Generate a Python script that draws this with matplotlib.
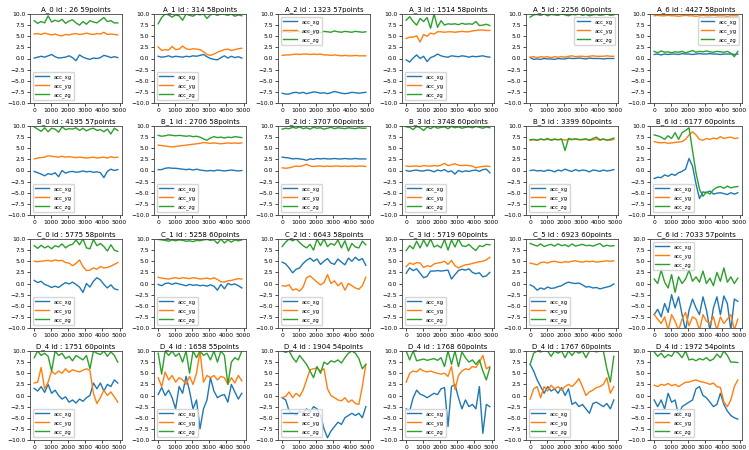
import numpy as np
import matplotlib
matplotlib.use('Agg')
import matplotlib.pyplot as plt

titles = [
    "A_0 id : 26 59points", "A_1 id : 314 58points", "A_2 id : 1323 57points",
    "A_3 id : 1514 58points", "A_5 id : 2256 60points", "A_6 id : 4427 58points",
    "B_0 id : 4195 57points", "B_1 id : 2706 58points", "B_2 id : 3707 60points",
    "B_3 id : 3748 60points", "B_5 id : 3399 60points", "B_6 id : 6177 60points",
    "C_0 id : 5775 58points", "C_1 id : 5258 60points", "C_2 id : 6643 58points",
    "C_3 id : 5719 60points", "C_5 id : 6923 60points", "C_6 id : 7033 57points",
    "D_4 id : 1751 60points", "D_4 id : 1658 55points", "D_4 id : 1904 54points",
    "D_4 id : 1768 60points", "D_4 id : 1767 60points", "D_4 id : 1972 54points",
]
legend_locs = [
    'lower left', 'lower left', 'upper left', 'lower left', 'upper right', 'upper right',
    'lower left', 'lower left', 'lower left', 'lower left', 'lower left', 'lower left',
    'lower left', 'lower left', 'lower left', 'lower left', 'lower left', 'upper left',
    'lower left', 'lower left', 'lower left', 'lower left', 'lower left', 'lower left',
]
labels = ['acc_xg', 'acc_yg', 'acc_zg']

# --- row A ---
a0_xg = [0.1,0.3,0.5,0.3,0.6,0.9,0.4,0.1,0.2,0.3,0.6,0.2,-0.5,0.8,0.3,0.0,-0.2,0.1,0.0,0.2,0.7,0.5,0.2,0.4,0.2]
a0_yg = [5.5,5.6,5.4,5.7,5.5,5.3,5.5,5.2,5.1,5.4,5.3,5.5,5.6,5.4,5.5,5.7,5.5,5.4,5.6,5.5,5.9,5.4,5.5,5.4,5.3]
a0_zg = [8.5,7.9,8.3,8.0,9.6,8.2,8.6,8.3,8.8,7.9,8.4,8.7,8.0,7.5,8.3,7.7,8.5,8.2,8.0,8.6,9.2,8.3,8.5,8.0,8.0]
a1_xg = [0.5,0.3,0.4,0.6,0.3,0.5,0.4,0.3,0.5,0.4,0.6,0.5,0.7,0.9,0.4,0.0,-0.2,-0.3,0.2,0.6,0.1,0.5,0.2,0.4,0.1]
a1_yg = [2.6,1.8,2.0,1.9,2.7,2.0,2.1,2.8,2.2,2.0,2.2,2.1,2.0,1.5,0.9,0.7,1.0,1.4,1.7,2.0,2.1,1.8,2.0,2.2,2.3]
a1_zg = [7.8,9.2,10.0,9.8,9.3,9.8,9.6,8.6,10.0,9.7,9.5,10.0,9.8,10.0,9.0,9.8,10.0,9.7,10.0,9.9,9.7,10.0,9.5,9.8,9.6]
a2_xg = [-7.8,-8.0,-8.0,-7.7,-7.6,-7.8,-7.6,-7.9,-7.7,-7.5,-7.6,-7.8,-7.7,-7.9,-7.7,-7.4,-7.6,-7.8,-7.9,-7.8,-7.6,-7.7,-7.8,-7.7,-7.6]
a2_yg = [0.7,0.8,0.8,0.9,1.0,0.9,1.0,1.0,0.9,1.0,0.9,1.0,0.8,0.8,0.7,0.8,0.7,0.6,0.7,0.6,0.6,0.7,0.6,0.6,0.6]
a2_zg = [6.0,6.1,5.9,6.0,6.2,6.0,5.8,6.1,6.0,5.9,6.3,5.8,6.1,6.0,5.9,6.2,6.0,5.9,6.1,6.0,5.9,6.1,6.0,5.9,6.0]
a3_xg = [-0.3,-0.8,0.1,0.8,0.0,0.5,-0.7,0.2,0.5,1.0,0.6,0.4,0.3,0.6,0.5,0.4,0.6,0.5,0.3,0.5,0.4,0.5,0.6,0.4,0.3]
a3_yg = [4.5,4.8,4.8,5.1,3.7,5.4,5.0,5.7,5.5,6.0,6.0,5.9,6.0,6.0,5.9,6.0,6.1,6.0,6.0,6.2,6.3,6.4,6.4,6.3,6.3]
a3_zg = [8.6,9.4,8.3,7.5,9.0,8.3,9.2,6.8,10.0,7.0,8.5,7.5,7.8,7.7,7.8,7.6,7.9,7.7,7.8,7.7,8.3,7.4,7.5,7.7,7.4]
a5_xg = [0.2,-0.2,-0.1,-0.2,0.0,-0.1,-0.1,-0.2,0.0,-0.1,-0.1,0.1,0.0,0.0,0.1,0.0,-0.1,0.1,0.0,0.0,0.0,-0.1,0.0,0.0,0.0]
a5_yg = [0.3,0.4,0.2,0.4,0.3,0.4,0.2,0.4,0.3,0.4,0.3,0.5,0.6,0.4,0.5,0.5,0.4,0.5,0.6,0.5,0.5,0.5,0.6,0.5,0.5]
a5_zg = [9.3,9.8,9.9,9.7,10.0,9.6,9.9,9.8,9.7,10.0,9.8,9.6,9.9,9.8,10.0,9.7,9.9,9.6,9.8,9.9,9.7,9.8,10.0,9.7,9.8]
a6_xg = [0.9,1.0,0.8,1.0,0.9,1.0,1.0,0.9,1.1,1.0,1.0,0.9,1.0,1.1,1.0,1.0,1.1,1.0,1.0,0.9,1.0,1.0,1.0,0.9,1.0]
a6_yg = [9.6,9.7,9.6,9.6,9.7,9.6,9.6,9.5,9.6,9.7,9.6,9.6,9.5,9.6,9.7,9.6,9.6,9.7,9.6,9.6,9.6,9.5,9.6,9.6,9.6]
a6_zg = [1.6,1.3,1.7,1.4,1.5,1.3,1.5,1.4,1.6,1.3,1.5,1.8,1.4,1.6,1.5,1.7,1.5,1.4,1.6,1.5,1.4,1.6,1.2,0.4,1.6]

# --- row B ---
b0_xg = [-0.2,-0.5,-0.8,-1.2,-0.7,-0.9,-0.5,-1.4,0.0,-0.6,-0.3,-0.2,-0.4,-0.3,-0.1,-0.3,-0.2,-0.4,-0.3,-0.5,-1.6,-0.2,0.3,0.0,0.2]
b0_yg = [2.6,2.8,2.9,3.0,3.3,3.2,3.1,3.0,3.2,3.0,3.1,3.0,2.9,3.0,2.9,2.8,2.9,3.0,2.8,2.9,3.0,2.8,3.1,2.9,3.0]
b0_zg = [9.8,9.3,8.8,9.6,8.7,9.5,9.3,8.6,9.8,9.2,9.4,9.3,9.6,9.0,9.5,8.9,9.3,9.5,9.0,9.2,8.7,9.3,8.2,9.5,9.0]
b1_xg = [0.2,0.2,0.5,0.6,0.5,0.5,0.4,0.3,0.2,0.3,0.1,0.3,0.1,0.0,-0.1,0.0,-0.1,0.1,0.0,-0.1,0.0,0.1,0.0,-0.1,0.0]
b1_yg = [5.7,5.6,5.5,5.4,5.3,5.4,5.5,5.6,5.7,5.8,5.9,6.0,6.1,6.3,6.2,6.1,6.2,6.1,6.0,6.1,6.2,6.1,6.2,6.1,6.2]
b1_zg = [7.9,7.7,7.8,8.0,7.9,7.8,7.9,7.8,7.7,7.8,7.6,7.7,7.5,7.1,6.8,7.3,7.6,7.4,7.5,7.3,7.5,7.4,7.6,7.5,7.4]
b2_xg = [3.0,2.9,2.8,2.6,2.7,2.6,2.5,2.3,2.6,2.5,2.7,2.6,2.7,2.6,2.6,2.7,2.6,2.6,2.7,2.6,2.6,2.7,2.6,2.6,2.6]
b2_yg = [0.6,0.5,0.6,0.8,1.0,0.9,1.1,1.4,1.0,0.9,1.0,1.0,0.9,1.0,0.9,1.0,1.0,0.9,1.0,0.9,1.0,0.9,1.0,1.0,0.9]
b2_zg = [9.3,9.5,9.4,9.7,9.5,9.8,9.4,9.6,9.3,9.7,9.5,9.6,9.3,9.5,9.7,9.4,9.6,9.5,9.4,9.6,9.5,9.4,9.6,9.5,9.5]
b3_xg = [0.0,-0.2,0.0,0.1,-0.1,-0.1,0.1,0.0,-0.3,0.1,-0.1,0.2,-0.3,-0.1,-0.8,0.0,-0.3,-0.1,-0.2,0.0,0.1,-0.2,0.2,0.3,-0.5]
b3_yg = [1.0,0.9,1.0,1.0,0.9,1.1,1.0,1.0,1.1,1.0,1.2,1.6,1.1,1.3,1.5,1.2,1.1,1.2,1.1,1.0,0.6,0.8,0.9,1.0,0.9]
b3_zg = [9.8,9.7,9.2,9.9,9.6,9.0,9.8,9.4,9.9,9.5,9.7,9.8,9.4,9.9,9.6,9.8,9.5,9.7,9.8,9.6,9.9,9.7,9.5,9.8,9.6]
b5_xg = [0.0,0.1,-0.1,0.0,-0.2,0.1,0.0,-0.3,0.1,-0.1,0.3,0.0,-0.2,0.2,-0.1,0.1,0.0,-0.3,0.1,0.0,-0.2,0.1,-0.1,0.0,0.2]
b5_yg = [6.8,6.9,6.8,7.0,6.9,7.0,6.9,7.1,6.9,7.0,6.8,7.0,6.9,7.1,7.0,6.9,7.0,6.8,6.9,7.1,6.8,7.0,6.9,6.8,7.0]
b5_zg = [6.9,7.0,6.8,7.1,6.9,7.2,6.8,7.0,6.9,7.1,4.5,7.2,7.0,7.1,6.9,7.0,7.1,6.8,7.2,7.5,6.9,7.1,6.8,7.0,7.3]
b6_xg = [-1.8,-1.5,-1.6,-1.0,-1.3,-0.8,-1.1,-0.5,-0.2,0.3,2.7,1.0,-3.0,-6.3,-4.8,-5.0,-4.6,-5.3,-5.1,-5.0,-5.2,-5.4,-5.0,-5.3,-5.0]
b6_yg = [6.5,6.3,6.2,6.3,6.1,6.2,6.3,6.4,6.5,7.0,8.0,8.7,8.0,7.0,6.8,7.2,7.0,7.3,7.1,7.6,7.2,7.4,7.5,7.2,7.3]
b6_zg = [8.0,7.8,7.5,7.0,7.8,7.2,8.5,7.0,8.5,9.0,9.6,4.5,-0.5,-4.2,-5.8,-4.8,-5.3,-4.3,-3.8,-3.6,-4.0,-3.5,-3.9,-3.7,-3.6]

# --- row C ---
c0_xg = [0.7,0.2,0.5,-0.2,-0.5,-0.9,-0.6,-0.9,-0.3,0.2,-0.1,0.3,-0.2,-0.8,-2.0,0.0,-0.8,0.5,1.3,0.8,-0.2,-1.0,-0.3,-1.2,-1.4]
c0_yg = [5.0,4.9,5.0,5.1,5.2,5.0,5.3,5.1,5.2,4.7,4.6,4.0,4.5,5.3,3.8,2.9,3.0,3.5,3.2,3.8,3.5,3.6,3.9,4.3,4.7]
c0_zg = [8.5,7.9,8.6,8.0,8.4,7.8,8.5,8.2,8.9,8.0,8.6,8.8,9.8,8.7,10.0,8.0,7.8,9.9,8.5,9.0,8.3,7.3,8.7,7.5,7.2]
c1_xg = [-0.2,-0.5,0.0,0.1,-0.2,0.1,-0.1,-0.3,-0.5,-0.2,-0.4,-0.3,-0.5,-0.4,-0.6,-0.3,-0.6,-1.5,-0.2,-1.2,0.0,-0.3,-0.1,-0.5,-1.0]
c1_yg = [1.4,1.2,1.1,1.0,1.2,1.3,1.1,1.3,1.2,1.1,1.3,1.2,1.0,1.1,1.2,1.0,1.3,0.9,0.4,0.3,0.6,0.7,0.9,1.1,1.0]
c1_zg = [9.9,9.8,9.7,9.5,9.8,9.6,9.8,9.7,9.5,9.6,9.4,9.7,9.6,9.8,9.9,9.7,9.8,9.0,10.0,9.1,9.8,9.3,9.8,9.6,9.8]
c2_xg = [4.8,4.4,3.5,2.4,3.2,3.5,4.5,5.2,5.7,5.0,5.5,4.3,5.0,5.6,4.6,4.3,5.5,4.8,4.2,5.7,5.0,5.9,5.2,5.6,4.1]
c2_yg = [-0.5,-0.6,-0.3,-1.5,-1.2,-1.7,-0.8,1.3,1.7,1.0,0.3,-0.3,0.2,2.0,0.0,0.6,-0.5,0.2,-1.5,0.0,-0.5,-1.0,-1.3,-0.5,1.4]
c2_zg = [8.3,9.3,10.0,9.6,10.0,9.2,8.5,8.0,8.8,7.5,10.0,8.5,10.0,8.3,9.0,8.6,9.8,8.0,9.6,7.3,9.0,8.2,8.0,9.5,8.7]
c3_xg = [2.3,3.5,2.9,3.3,2.3,1.3,1.6,2.8,2.8,2.9,2.8,2.9,3.0,1.0,2.0,2.9,3.2,3.0,3.3,2.5,2.2,2.4,1.5,1.7,2.5]
c3_yg = [3.8,4.6,4.3,4.7,4.6,3.6,4.0,3.8,4.4,4.6,4.7,5.0,4.3,5.2,4.0,3.5,3.9,4.2,4.3,4.5,4.7,4.9,5.0,5.3,5.9]
c3_zg = [7.4,8.5,7.8,9.5,8.0,9.8,8.3,10.0,8.2,8.6,8.0,9.9,7.5,9.8,8.2,10.0,8.5,8.3,8.8,8.0,7.4,8.5,8.3,8.8,8.7]
c5_xg = [-0.3,-0.7,-1.5,-1.0,-1.3,-0.8,-1.1,-1.0,-0.7,-0.5,0.0,0.3,0.1,0.0,0.1,-0.3,-0.8,-0.7,-1.0,-0.9,-1.2,-1.0,-0.8,-0.6,-0.1]
c5_yg = [4.6,4.4,4.2,4.7,4.8,4.6,4.9,5.0,4.8,4.7,4.9,4.8,5.0,5.1,4.9,4.8,5.0,4.9,5.0,4.8,4.9,5.0,5.1,5.0,5.1]
c5_zg = [9.0,8.7,8.4,8.9,8.3,8.6,8.8,8.4,8.9,8.5,8.7,8.3,8.9,8.4,8.6,8.8,8.5,8.6,8.4,8.7,9.0,8.3,8.6,8.4,8.5]
c6_xg = [-7.0,-5.8,-7.5,-4.5,-6.5,-2.5,-5.5,-3.0,-7.0,-10.5,-6.0,-3.5,-5.5,-7.0,-3.0,-6.0,-10.5,-5.5,-3.0,-7.0,-2.8,-4.5,-10.5,-3.5,-4.0]
c6_yg = [-7.0,-8.0,-9.0,-7.5,-10.5,-7.0,-8.5,-10.5,-8.0,-6.5,-9.5,-7.5,-8.0,-10.5,-7.0,-8.5,-9.0,-7.5,-10.5,-7.5,-9.0,-8.0,-7.0,-10.5,-8.0]
c6_zg = [1.0,0.0,3.0,0.3,-1.0,2.0,-2.0,1.5,0.0,1.0,3.0,0.5,1.5,0.3,2.8,0.0,1.2,-0.5,2.5,0.5,3.5,0.3,1.5,0.0,1.2]

# --- row D ---
d0_xg = [1.6,1.0,2.0,0.7,2.5,0.5,1.2,0.0,-0.8,-0.3,-1.5,-1.0,-1.7,-0.8,-1.3,-0.5,0.0,2.8,1.5,2.8,1.0,2.5,2.0,3.5,2.8]
d0_yg = [2.8,3.0,6.3,1.5,3.0,5.5,4.8,5.5,5.0,6.0,5.2,5.8,5.5,5.3,5.7,6.0,5.6,0.5,-1.8,-0.5,1.2,0.0,0.8,-0.3,-1.5]
d0_zg = [8.5,10.0,9.0,9.5,8.8,5.5,10.0,9.0,9.5,8.3,8.8,7.8,9.0,8.5,8.0,9.0,6.0,10.0,9.5,9.2,10.0,8.8,9.8,9.0,7.5]
d1_xg = [0.2,1.8,0.0,1.2,-0.5,-3.0,2.0,0.5,4.3,1.0,-3.0,-1.0,-7.5,-3.0,-1.0,4.0,1.0,-0.5,0.0,0.2,-1.5,2.5,0.8,-0.8,0.5]
d1_yg = [4.0,2.0,5.3,3.5,4.5,3.0,4.0,3.5,2.5,4.3,2.5,5.0,10.0,3.0,4.5,4.0,4.5,3.5,4.3,4.0,2.5,4.0,2.8,4.5,3.3]
d1_zg = [9.5,4.8,10.0,9.0,10.0,8.8,9.5,7.5,10.0,5.0,10.0,8.5,10.0,9.0,9.5,8.0,10.0,7.5,10.0,9.0,2.5,7.5,8.5,8.0,10.0]
d2_xg = [-0.5,-1.0,-3.5,-4.0,-4.5,-3.5,-4.0,-3.0,-3.8,-2.5,-3.0,-4.5,-7.5,-9.5,-8.0,-7.0,-6.0,-6.5,-5.0,-4.5,-4.0,-4.5,-4.0,-5.0,-2.5]
d2_yg = [-0.5,-0.2,0.8,-0.5,0.5,-0.2,1.2,3.5,5.8,6.0,6.2,5.5,6.0,1.5,0.0,-0.5,-1.0,-1.2,-0.5,-1.5,-1.0,-1.8,-2.0,2.0,7.0]
d2_zg = [10.0,9.7,10.0,8.5,7.5,9.0,8.0,7.0,5.5,4.0,6.5,5.0,7.5,7.0,7.8,7.5,8.0,7.3,8.5,9.5,10.0,9.5,8.3,6.0,7.0]
d3_xg = [-3.0,-3.5,-0.5,1.2,0.3,0.0,-0.5,0.0,0.5,0.2,1.5,1.8,-7.0,2.0,2.5,-0.5,-3.0,-1.0,-2.5,-2.0,-3.0,2.0,-8.5,-2.0,-2.5]
d3_yg = [3.0,5.0,5.5,5.3,6.0,5.5,5.3,5.5,5.2,5.0,4.8,5.0,4.3,6.5,1.3,4.5,5.5,6.0,5.8,6.5,6.3,7.5,9.0,6.0,6.5]
d3_zg = [10.0,8.0,10.0,7.8,8.0,8.2,7.9,8.1,8.3,7.9,8.5,6.5,10.0,7.0,10.0,6.5,9.8,8.5,7.5,8.0,7.0,8.0,5.5,3.5,6.2]
d4_xg = [7.0,5.5,3.5,2.0,0.5,2.0,1.0,1.5,0.5,1.8,0.0,1.5,-2.0,-1.5,-2.5,-2.0,-3.0,-4.0,-1.8,-1.5,-2.0,-2.5,-1.8,-3.0,-1.0]
d4_yg = [-0.8,1.5,2.0,-0.5,2.0,1.0,2.3,1.5,2.0,1.2,2.0,2.5,2.0,2.8,3.8,2.0,0.0,0.8,1.2,1.8,2.0,2.5,4.0,0.5,2.0]
d4_zg = [7.0,9.5,10.0,9.8,10.0,10.0,8.8,10.0,9.5,10.0,8.5,10.0,9.0,10.0,9.5,10.0,8.5,10.0,10.0,9.8,10.0,10.0,6.0,3.0,8.8]
d5_xg = [-1.0,-2.5,-1.0,-3.0,0.5,-1.5,-1.0,-4.5,-2.5,-2.0,-1.5,-1.0,1.5,2.0,0.0,-0.5,-1.5,-2.5,-2.0,0.5,-2.0,-3.5,-4.5,-5.0,-5.3]
d5_yg = [2.3,2.0,2.5,2.3,2.7,2.2,2.5,2.0,2.5,3.0,3.0,3.3,3.5,3.2,3.0,2.8,2.5,2.8,2.0,1.8,-1.5,-2.5,-1.0,2.0,3.5]
d5_zg = [9.8,8.8,9.5,8.5,9.2,8.8,10.0,9.5,8.5,10.0,8.0,8.2,7.8,8.3,8.0,8.5,7.8,8.2,9.3,8.5,10.0,9.0,7.5,7.5,7.4]

panels = [
    (a0_xg, a0_yg, a0_zg), (a1_xg, a1_yg, a1_zg), (a2_xg, a2_yg, a2_zg),
    (a3_xg, a3_yg, a3_zg), (a5_xg, a5_yg, a5_zg), (a6_xg, a6_yg, a6_zg),
    (b0_xg, b0_yg, b0_zg), (b1_xg, b1_yg, b1_zg), (b2_xg, b2_yg, b2_zg),
    (b3_xg, b3_yg, b3_zg), (b5_xg, b5_yg, b5_zg), (b6_xg, b6_yg, b6_zg),
    (c0_xg, c0_yg, c0_zg), (c1_xg, c1_yg, c1_zg), (c2_xg, c2_yg, c2_zg),
    (c3_xg, c3_yg, c3_zg), (c5_xg, c5_yg, c5_zg), (c6_xg, c6_yg, c6_zg),
    (d0_xg, d0_yg, d0_zg), (d1_xg, d1_yg, d1_zg), (d2_xg, d2_yg, d2_zg),
    (d3_xg, d3_yg, d3_zg), (d4_xg, d4_yg, d4_zg), (d5_xg, d5_yg, d5_zg),
]

W, H = 749, 450
col_left = [30, 154, 278, 402, 526, 650]
row_top = [14, 126, 239, 351]
ax_w, ax_h = 92, 89

fig = plt.figure(figsize=(W / 100, H / 100), dpi=100)
colors = ['#1f77b4', '#ff7f0e', '#2ca02c']

for i, series in enumerate(panels):
    r, c = divmod(i, 6)
    ax = fig.add_axes([col_left[c] / W, 1 - (row_top[r] + ax_h) / H, ax_w / W, ax_h / H])
    for vals, lab, col in zip(series, labels, colors):
        t = np.linspace(0, 4900, len(vals))
        ax.plot(t, vals, color=col, linewidth=1.0, label=lab)
    ax.set_ylim(-10, 10)
    ax.set_yticks(np.arange(-10, 10.1, 2.5))
    ax.set_xticks(range(0, 5001, 1000))
    ax.tick_params(labelsize=4.3, length=2, width=0.5, pad=1.5)
    for sp in ax.spines.values():
        sp.set_linewidth(0.6)
        sp.set_color('#444444')
    ax.set_title(titles[i], fontsize=5.0, pad=2)
    ax.legend(loc=legend_locs[i], fontsize=3.8, handlelength=2.6, borderpad=0.5,
              labelspacing=0.6, framealpha=0.8, edgecolor='#cccccc')

fig.savefig('out.png', dpi=100)
